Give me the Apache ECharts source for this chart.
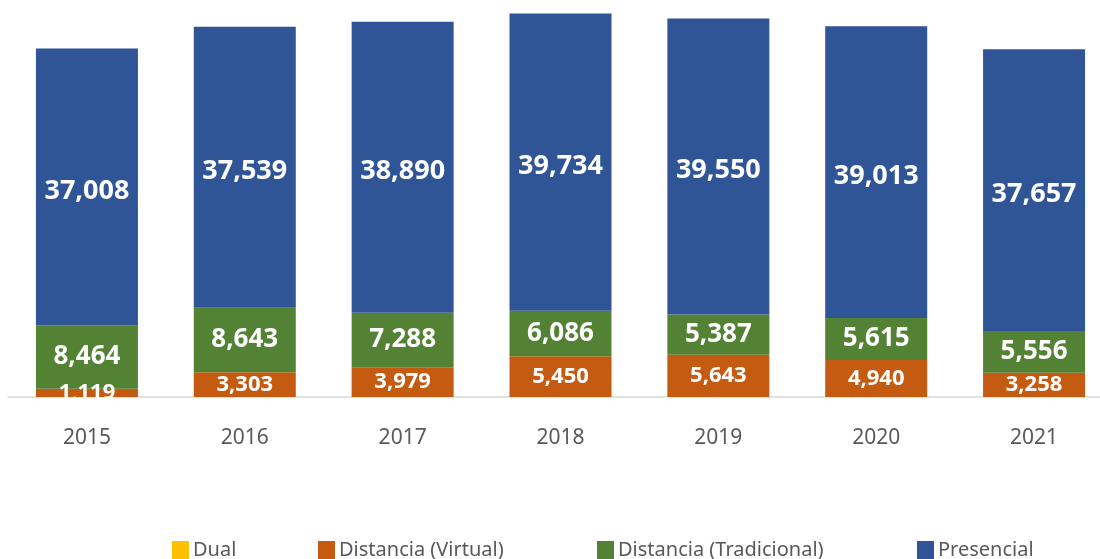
<!DOCTYPE html>
<html><head><meta charset="utf-8">
<script src="https://cdn.jsdelivr.net/npm/echarts@6/dist/echarts.min.js"></script>
<style>html,body{margin:0;padding:0;background:#fff;overflow:hidden;width:1100px;height:559px}#c{width:1113px;height:559px}</style>
</head><body><div id="c"></div>
<script>
const categories = ['2015','2016','2017','2018','2019','2020','2021'];
const dual = [0,0,0,0,0,0,0];
const virtualDist = [1119,3303,3979,5450,5643,4940,3258];
const tradicional = [8464,8643,7288,6086,5387,5615,5556];
const presencial = [37008,37539,38890,39734,39550,39013,37657];
const seriesNames = ['Dual','Distancia (Virtual)','Distancia (Tradicional)','Presencial'];
const colors = ['#FFC000','#C55A11','#548235','#2F5597'];
const legendLeft = [167,313,592,912];

const fmt = p => p.value.toLocaleString('en-US');
const lbl = (size) => ({show:true, position:'inside', color:'#fff', fontFamily:'Noto Sans', fontWeight:'bold', fontSize:size, formatter:fmt});

const chart = echarts.init(document.getElementById('c'), null, {renderer:'canvas'});
chart.setOption({
  animation:false,
  color: colors,
  grid:{left:8, right:0, top:8, bottom:162, containLabel:false},
  legend: seriesNames.map((n,i)=>({
    data:[n], left:legendLeft[i], top:535, itemWidth:17, itemHeight:18, itemGap:0,
    icon:'rect', textStyle:{fontFamily:'Noto Sans', fontSize:20, color:'#595959', padding:[0,0,0,-1]}
  })),
  xAxis:{type:'category', data:categories,
    axisLine:{lineStyle:{color:'#D9D9D9', width:1.5}}, axisTick:{show:false},
    axisLabel:{fontFamily:'Noto Sans', fontSize:21, color:'#595959', margin:31}},
  yAxis:{type:'value', min:0, max:52000, show:false, splitLine:{show:false}},
  series:[
    {name:seriesNames[0], type:'bar', stack:'a', data:dual, barWidth:102, label:{show:false}},
    {name:seriesNames[1], type:'bar', stack:'a', data:virtualDist, barWidth:102, label:lbl(22)},
    {name:seriesNames[2], type:'bar', stack:'a', data:tradicional, barWidth:102, label:lbl(26)},
    {name:seriesNames[3], type:'bar', stack:'a', data:presencial, barWidth:102, label:Object.assign(lbl(27),{offset:[0,4]})}
  ]
});
</script></body></html>
